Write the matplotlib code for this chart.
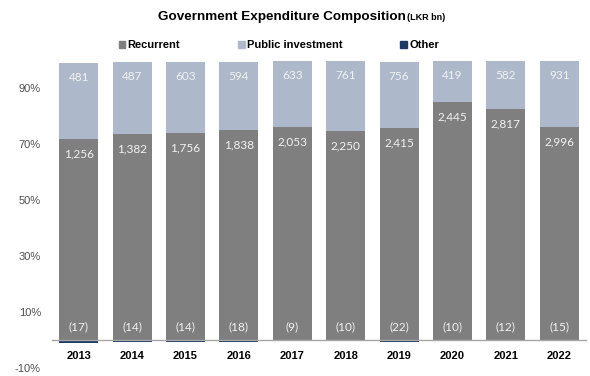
import numpy as np
import matplotlib
matplotlib.use("Agg")
import matplotlib.pyplot as plt
from matplotlib.patches import Patch

years = ["2013", "2014", "2015", "2016", "2017", "2018", "2019", "2020", "2021", "2022"]
recurrent = [1256, 1382, 1756, 1838, 2053, 2250, 2415, 2445, 2817, 2996]
public_inv = [481, 487, 603, 594, 633, 761, 756, 419, 582, 931]
other = [-17, -14, -14, -18, -9, -10, -22, -10, -12, -15]

C_REC = "#7f7f7f"
C_PI = "#adb9ca"
C_OTH = "#1f3864"

rec = np.array(recurrent, dtype=float)
pi = np.array(public_inv, dtype=float)
oth = np.array(other, dtype=float)
total = rec + pi + np.abs(oth)
rec_s = rec / total * 100
pi_s = pi / total * 100
oth_s = oth / total * 100

fig = plt.figure(figsize=(5.9, 3.76), dpi=100)
ax = fig.add_axes([52 / 590, 1 - 368 / 376, (586 - 52) / 590, (368 - 60) / 376])

# zero line first: moving the spine rebuilds the tick objects
for s in ("top", "right", "left"):
    ax.spines[s].set_visible(False)
ax.spines["bottom"].set_position(("data", 0))
ax.spines["bottom"].set_color("#a6a6a6")
ax.spines["bottom"].set_linewidth(1.0)
ax.spines["bottom"].set_zorder(3)

x = np.arange(len(years))
w = 0.73
ax.bar(x, rec_s, width=w, color=C_REC, zorder=2)
ax.bar(x, pi_s, width=w, bottom=rec_s, color=C_PI, zorder=2)
ax.bar(x, oth_s, width=w, color=C_OTH, zorder=2)

lab_font = dict(family=["Lato", "DejaVu Sans"], fontsize=8.5, color="#f2f2f2",
                ha="center", va="center", zorder=4)
for i in range(len(years)):
    top = rec_s[i] + pi_s[i]
    ax.text(x[i], top - 5.3, f"{public_inv[i]:,}", **lab_font)
    ax.text(x[i], rec_s[i] - 5.3, f"{recurrent[i]:,}", **lab_font)
    ax.text(x[i], 4.8, f"({abs(other[i])})", **lab_font)

ax.set_xlim(-0.5, len(years) - 0.5)
ax.set_ylim(-10, 100)
ax.set_yticks([-10, 10, 30, 50, 70, 90])
ax.set_yticklabels(["-10%", "10%", "30%", "50%", "70%", "90%"],
                   fontfamily="Liberation Sans", fontsize=8, color="#505050")
ax.set_xticks(x)
ax.set_xticklabels(years, fontfamily="Liberation Sans", fontsize=8,
                   fontweight="bold", color="#000000")
ax.tick_params(axis="x", length=0, pad=8)
ax.tick_params(axis="y", length=0, pad=8)

fig.text(158 / 590, 1 - 17 / 376, "Government Expenditure Composition",
         fontfamily="Liberation Sans", fontweight="bold", fontsize=9.7,
         ha="left", va="center")
fig.text(407 / 590, 1 - 18 / 376, "(LKR bn)",
         fontfamily="Liberation Sans", fontweight="bold", fontsize=6.5,
         ha="left", va="center")

handles = [Patch(color=C_REC, label="Recurrent"),
           Patch(color=C_PI, label="Public investment"),
           Patch(color=C_OTH, label="Other")]
fig.legend(handles=handles, loc="center", bbox_to_anchor=(279 / 590, 1 - 45 / 376),
           ncol=3, frameon=False, handlelength=0.6, handleheight=0.6,
           handletextpad=0.2, columnspacing=5.2,
           prop={"family": "Liberation Sans", "weight": "bold", "size": 8})

fig.savefig("out.png", dpi=100)
